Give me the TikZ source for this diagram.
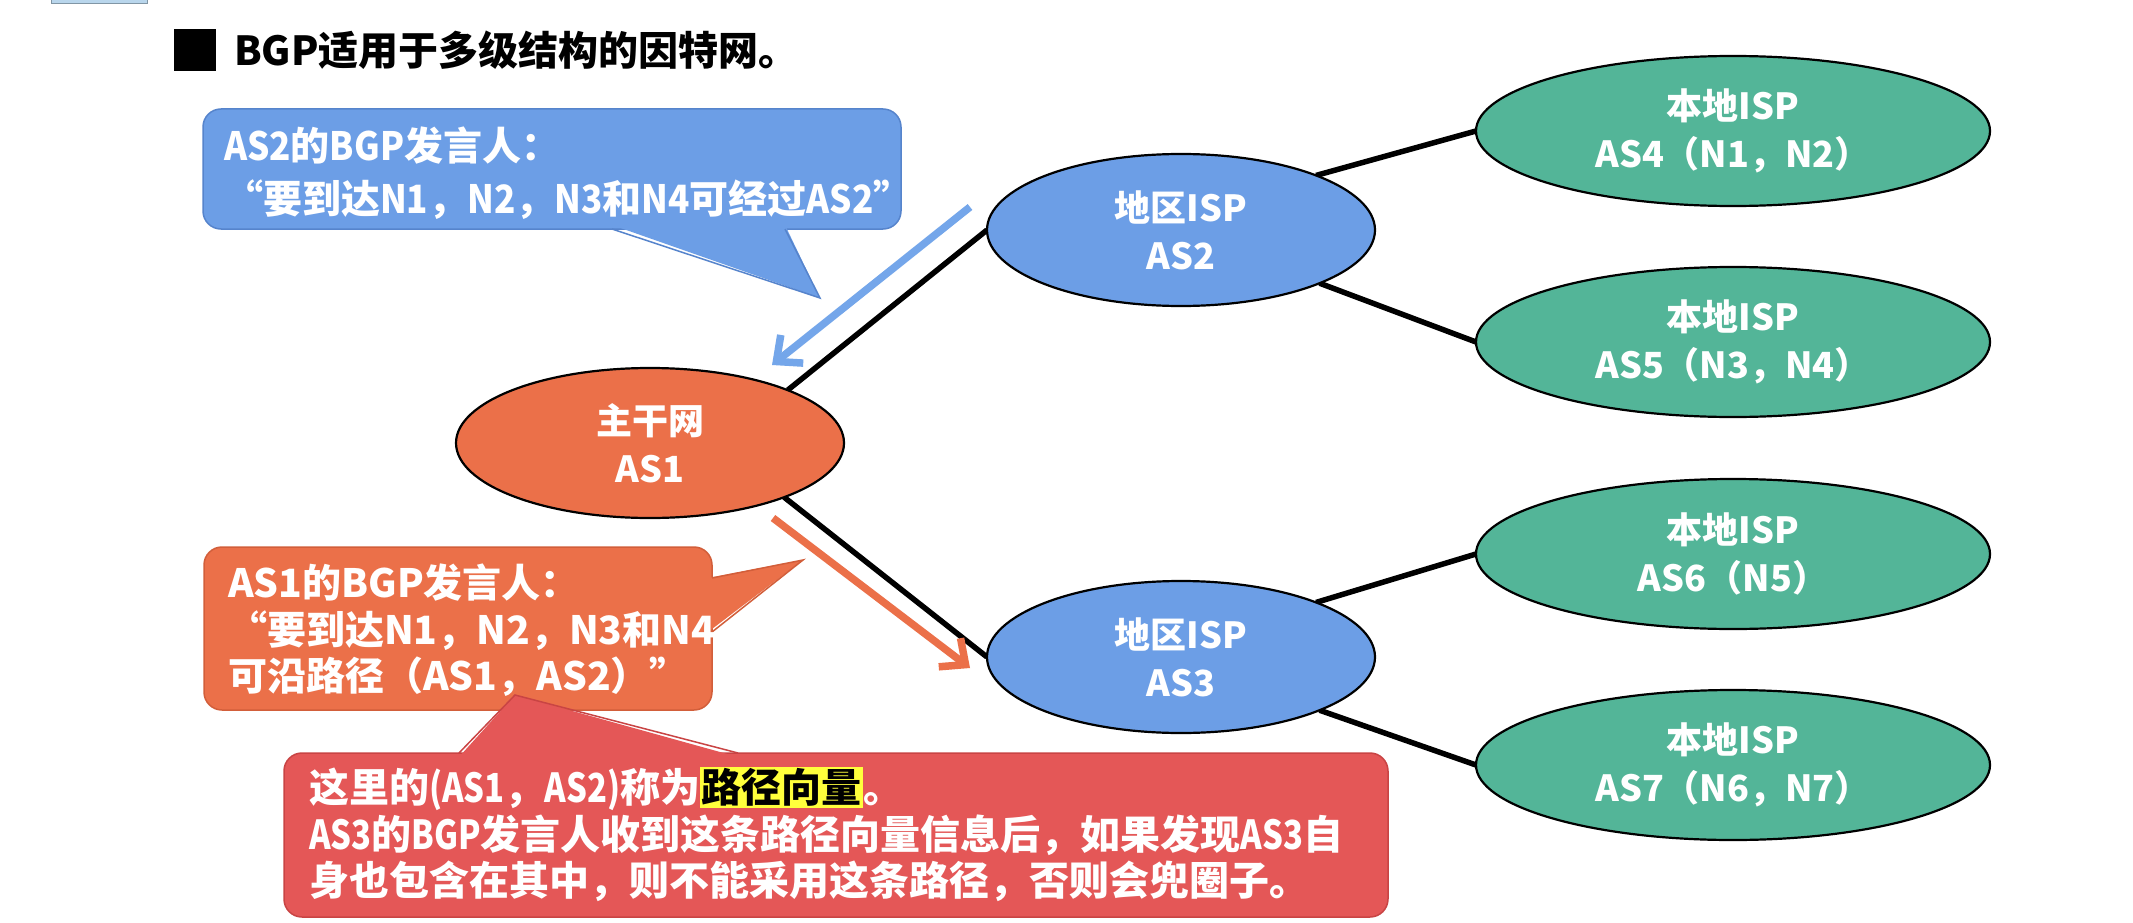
\documentclass[tikz,border=0pt]{standalone}
\usepackage{fontspec}
\setmainfont{Noto Sans CJK SC}
\usetikzlibrary{shapes.geometric,arrows.meta}
\definecolor{bluef}{HTML}{6C9EE6}
\definecolor{blued}{HTML}{5684CC}
\definecolor{bluea}{HTML}{74A6EA}
\definecolor{orangef}{HTML}{EB7049}
\definecolor{oranged}{HTML}{D25E3A}
\definecolor{redf}{HTML}{E45757}
\definecolor{redd}{HTML}{C94444}
\definecolor{greenf}{HTML}{53B598}
\definecolor{hl}{HTML}{FFFF3C}
\definecolor{topbar}{HTML}{B9D6EC}
\setlength{\fboxsep}{1.5pt}
\newcommand\nlat[1]{{\addfontfeatures{FakeStretch=0.82}#1}}
\newcommand\mlat[1]{{\addfontfeatures{FakeStretch=0.9}#1}}
\pgfdeclarelayer{paper}
\pgfdeclarelayer{links}
\pgfsetlayers{paper,links,main}
\begin{document}
\begin{tikzpicture}[x=1pt,y=-1pt,
  every node/.style={inner sep=0pt,outer sep=0pt},
  isp/.style={ellipse,draw=black,line width=2.2pt,text=white,align=center,
    font=\bfseries\fontsize{36}{48}\selectfont},
  regional/.style={isp,fill=bluef,minimum width=388pt,minimum height=152pt},
  localisp/.style={isp,fill=greenf,minimum width=514pt,minimum height=150pt},
  backbone/.style={isp,fill=orangef,minimum width=388pt,minimum height=150pt},
  link/.style={line width=5.5pt,black},
  bubble/.style={rectangle,rounded corners=18pt,line width=1.5pt},
  bubbletext/.style={anchor=west,text=white,align=left},
  msgarrow/.style={line width=7.5pt,-{Straight Barb[length=20pt,width=36pt]}}
]
\begin{pgfonlayer}{paper}
\fill[white] (0,0) rectangle (2133,923);
\end{pgfonlayer}
\useasboundingbox (0,0) rectangle (2133,923);

% small bar at top left
\draw[fill=topbar,draw=topbar!70!black,line width=0.8pt] (51,-3) rectangle (147,3);

% title
\fill[black] (174,29) rectangle (216,71);
\node[anchor=west,font=\bfseries\fontsize{40}{48}\selectfont] (title) at (234,50) {BGP适用于多级结构的因特网。};

% autonomous systems
\node[backbone] (as1) at (650,443) {主干网\\AS1};
\node[regional] (as2) at (1181,230) {地区ISP\\AS2};
\node[regional] (as3) at (1181,657) {地区ISP\\AS3};
\node[localisp] (as4) at (1733,131) {本地ISP\\AS4（N1，N2）};
\node[localisp] (as5) at (1733,342) {本地ISP\\AS5（N3，N4）};
\node[localisp] (as6) at (1733,554) {本地ISP\\AS6（N5）};
\node[localisp] (as7) at (1733,765) {本地ISP\\AS7（N6，N7）};

% links
\begin{pgfonlayer}{links}
\draw[link] (as1.21) -- (as2.west);
\draw[link] (as1.-22) -- (as3.west);
\draw[link] (as2.22) -- (as4.west);
\draw[link] (as2.-21) -- (as5.west);
\draw[link] (as3.22) -- (as6.west);
\draw[link] (as3.-21) -- (as7.west);
\end{pgfonlayer}

% message arrows
\coordinate (ba0) at (970,207);
\coordinate (ba1) at (772,365);
\draw[msgarrow,bluea] (ba0) -- (ba1);
\coordinate (oa0) at (773,518);
\coordinate (oa1) at (970,668);
\draw[msgarrow,orangef] (oa0) -- (oa1);

% blue callout
\node[bubble,fill=bluef,draw=blued,minimum width=698pt,minimum height=120pt] (bbox) at (552,169) {};
\coordinate (bbl) at (612,229);
\coordinate (bbr) at (785,229);
\coordinate (btip) at (820,298);
\fill[bluef] ([yshift=4pt]bbl) -- (btip) -- ([yshift=4pt]bbr) -- cycle;
\draw[blued,line width=1.5pt] (bbl) -- (btip) -- (bbr);
\node[bubbletext,font=\bfseries\fontsize{39}{53}\selectfont] (btext) at (224,173.5)
  {\mlat{AS2}的\mlat{BGP}发言人：\\“要到达\mlat{N1}，\mlat{N2}，\mlat{N3}和\mlat{N4}可经过\mlat{AS2}”};

% orange callout
\node[bubble,fill=orangef,draw=oranged,minimum width=508pt,minimum height=163pt] (obox) at (458,628.5) {};
\coordinate (obt) at (712,578);
\coordinate (obb) at (712,632);
\coordinate (otip) at (803,560);
\fill[orangef] ([xshift=-4pt]obt) -- (otip) -- ([xshift=-4pt]obb) -- cycle;
\draw[oranged,line width=1.5pt] (obt) -- (otip) -- (obb);
\node[bubbletext,font=\bfseries\fontsize{39}{46.5}\selectfont] (otext) at (228,630.5)
  {AS1的BGP发言人：\\“要到达N1，N2，N3和N4\\可沿路径（AS1，AS2）”};

% red callout
\node[bubble,fill=redf,draw=redd,minimum width=1104pt,minimum height=164pt] (rbox) at (836,835) {};
\coordinate (rbl) at (459,753);
\coordinate (rbr) at (738,753);
\coordinate (rtip) at (515,695);
\fill[redf] ([yshift=-4pt]rbl) -- (rtip) -- ([yshift=-4pt]rbr) -- cycle;
\draw[redd,line width=1.5pt] (rbl) -- (rtip) -- (rbr);
\node[bubbletext,font=\bfseries\fontsize{40}{46.5}\selectfont] (rtext) at (309,834.5)
  {这里的\nlat{(AS1}，\nlat{AS2)}称为\colorbox{hl}{\textcolor{black}{路径向量}}。\\\nlat{AS3}的\nlat{BGP}发言人收到这条路径向量信息后，如果发现\nlat{AS3}自\\身也包含在其中，则不能采用这条路径，否则会兜圈子。};
\end{tikzpicture}
\end{document}
